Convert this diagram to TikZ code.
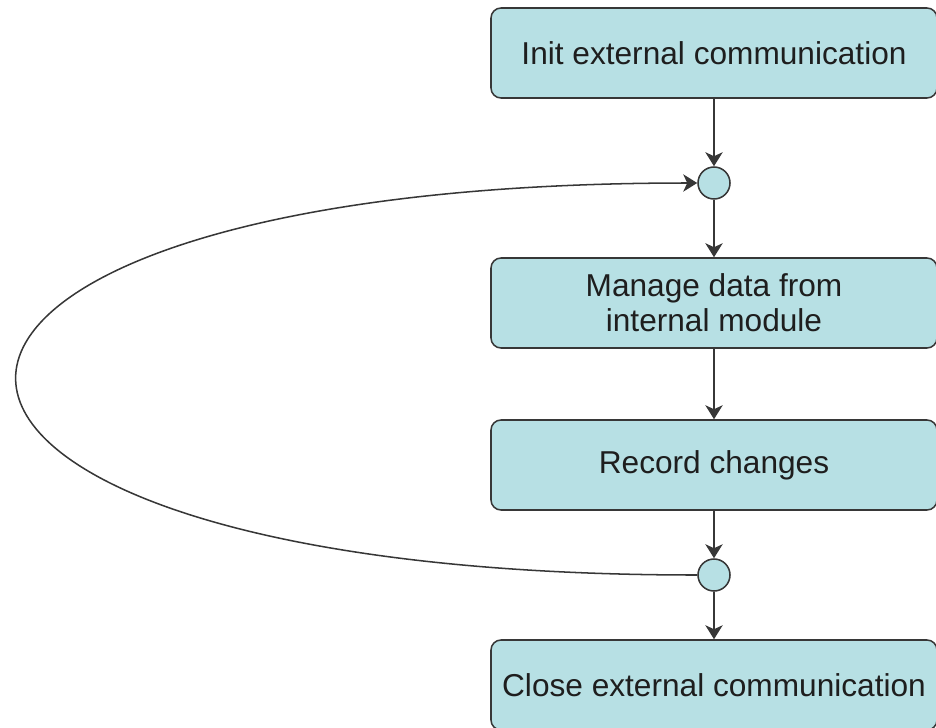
\documentclass[tikz,border=0pt]{standalone}
\usepackage{fontspec}
\setmainfont{Liberation Sans}
\usetikzlibrary{arrows.meta}
\definecolor{actfill}{RGB}{183,224,228}
\definecolor{actline}{RGB}{55,55,55}
\definecolor{acttext}{RGB}{30,30,30}

\begin{document}
\begin{tikzpicture}[x=0.03cm,y=-0.03cm,line width=1.3pt,>={Stealth[length=0.42cm,width=0.52cm,inset=0.12cm]},act/.style={draw=actline,fill=actfill,rounded corners=0.3cm,minimum width=13.38cm,minimum height=2.7cm,align=center,text=acttext,font=\fontsize{27}{30}\selectfont},junc/.style={circle,draw=actline,fill=actfill,minimum size=0.96cm,inner sep=0pt},arr/.style={->,draw=actline}]
\useasboundingbox (0,0) rectangle (936,727);
\node[act] (init) at (714,53) {Init external communication};
\node[junc] (j1) at (714,183) {};
\node[act] (manage) at (714,303) {Manage data from\\internal module};
\node[act] (record) at (714,465) {Record changes};
\node[junc] (j2) at (714,575) {};
\node[act] (close) at (714,685) {Close external communication};
\draw[arr] (init) -- (j1);
\draw[arr] (j1) -- (manage);
\draw[arr] (manage) -- (record);
\draw[arr] (record) -- (j2);
\draw[arr] (j2) -- (close);
\draw[arr] (j2.west) .. controls (-210,575) and (-210,183) .. (j1.west);
\end{tikzpicture}
\end{document}
